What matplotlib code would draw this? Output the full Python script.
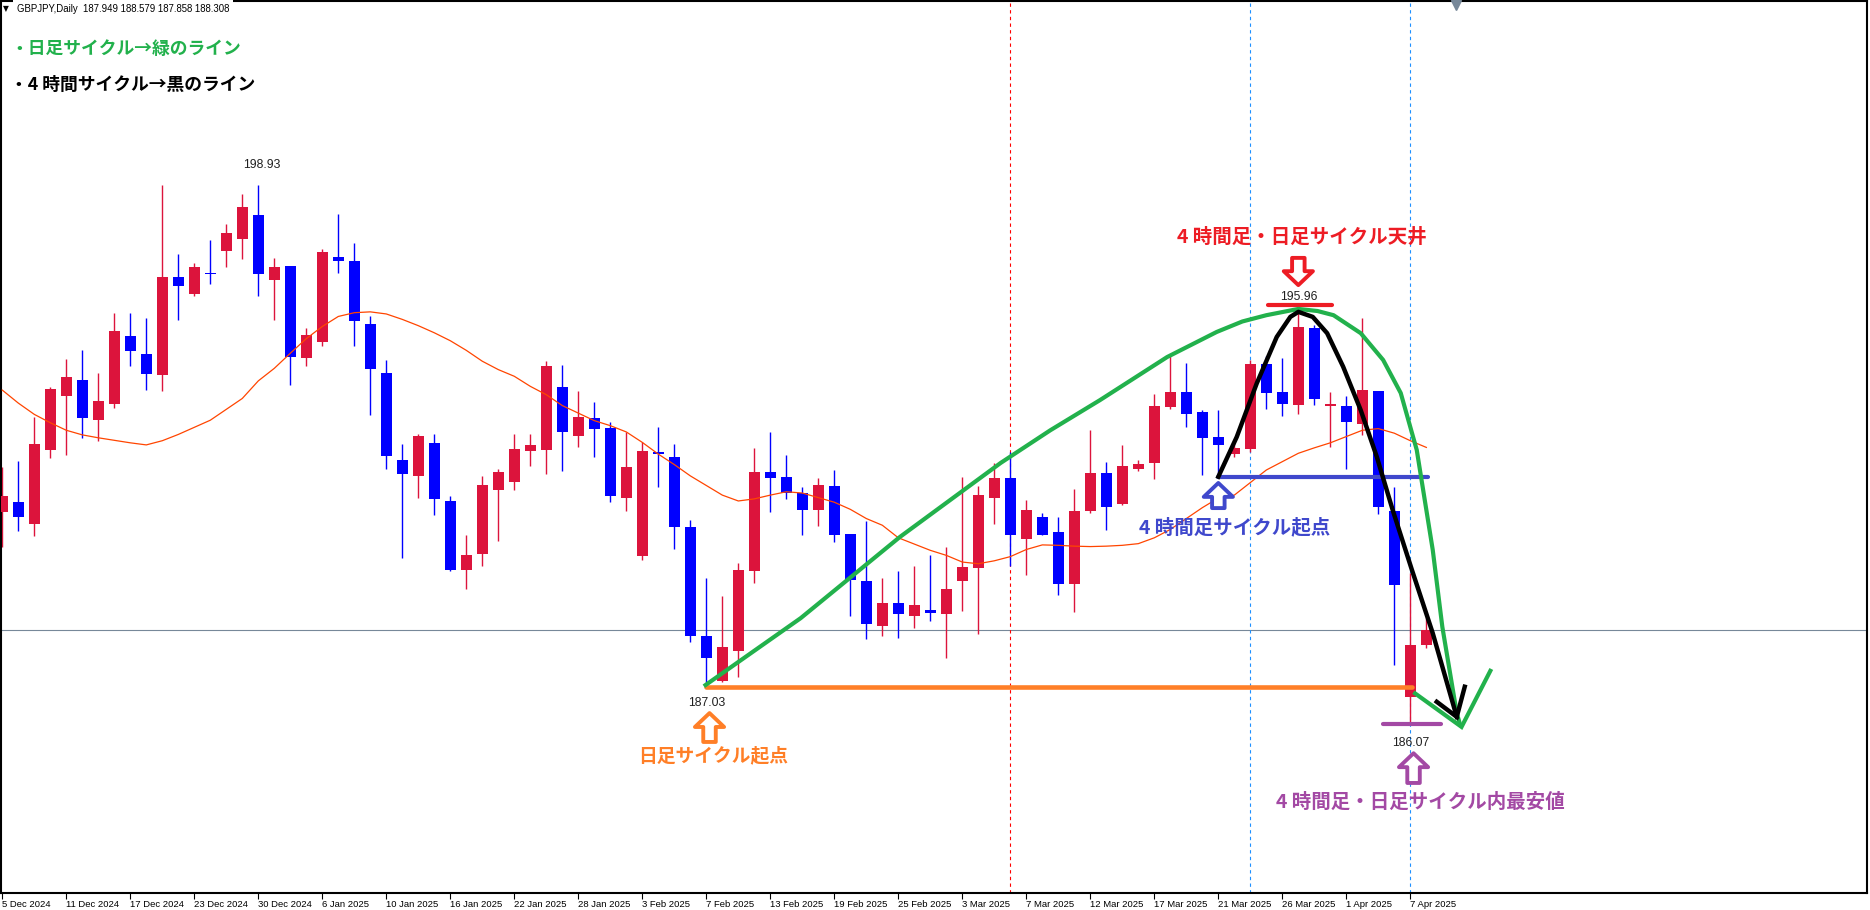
import numpy as np
import matplotlib
matplotlib.use("Agg")
import matplotlib.pyplot as plt

# ── Data (GBPJPY daily) ───────────────────────────────────────────────
opens = [191.12, 191.36, 190.84, 192.60, 193.90, 194.27, 193.32, 193.70, 195.32, 194.89,
         194.40, 196.73, 196.33, 196.83, 197.36, 197.65, 198.21, 196.67, 196.99, 194.80,
         195.19, 197.21, 197.11, 195.61, 194.44, 192.36, 191.98, 192.76, 191.38, 189.74,
         190.12, 191.65, 191.84, 192.58, 192.60, 194.10, 192.94, 193.36, 193.12, 191.46,
         190.07, 192.55, 192.43, 190.76, 188.16, 187.08, 187.80, 189.71, 192.07, 191.95,
         191.56, 191.17, 191.74, 190.59, 189.47, 188.40, 188.94, 188.64, 188.77, 188.69,
         189.47, 189.78, 191.46, 191.93, 190.48, 191.00, 190.64, 189.40, 191.15, 192.05,
         191.31, 192.14, 192.29, 193.63, 193.98, 193.51, 192.91, 192.51, 192.63, 194.65,
         193.98, 193.68, 195.51, 193.66, 193.65, 193.23, 194.01, 191.14, 186.70, 187.949]
highs = [192.20, 192.33, 193.39, 194.11, 194.77, 194.99, 194.45, 195.87, 195.87, 195.76,
         198.93, 197.28, 197.07, 197.62, 198.00, 198.72, 198.93, 197.19, 197.00, 195.51,
         197.40, 198.25, 197.54, 195.80, 194.75, 192.74, 192.98, 192.98, 191.50, 190.57,
         191.98, 192.14, 192.98, 192.98, 194.72, 194.63, 194.01, 193.74, 193.27, 193.03,
         192.79, 193.15, 192.74, 190.92, 189.55, 189.12, 189.90, 192.64, 193.03, 192.48,
         191.71, 191.93, 192.12, 190.59, 190.90, 189.54, 189.71, 189.82, 190.09, 190.28,
         191.95, 191.74, 192.29, 192.55, 191.40, 191.09, 191.00, 191.67, 193.08, 192.31,
         192.72, 192.36, 193.94, 194.84, 194.68, 193.55, 193.55, 192.79, 194.75, 194.84,
         194.80, 195.96, 195.58, 193.98, 193.89, 195.75, 194.01, 191.72, 189.65, 188.579]
lows = [190.29, 190.67, 190.55, 192.41, 192.49, 192.89, 192.82, 193.61, 194.61, 194.04,
        194.01, 195.71, 196.29, 196.57, 196.98, 197.16, 196.29, 195.71, 194.16, 194.61,
        195.09, 196.84, 195.09, 193.44, 192.15, 190.02, 191.46, 191.05, 189.71, 189.28,
        189.83, 190.43, 191.65, 192.22, 192.03, 192.10, 192.68, 192.44, 191.36, 191.15,
        189.98, 191.72, 190.24, 188.02, 187.03, 187.06, 187.18, 189.43, 191.12, 191.43,
        190.57, 190.79, 190.41, 188.64, 188.09, 188.16, 188.11, 188.35, 188.52, 187.63,
        188.76, 188.21, 190.84, 189.83, 189.62, 190.57, 189.14, 188.73, 191.10, 190.69,
        191.28, 192.09, 191.91, 193.59, 193.15, 192.01, 191.98, 192.44, 192.55, 193.59,
        193.42, 193.47, 193.68, 192.68, 192.15, 192.96, 191.08, 187.46, 186.07, 187.858]
closes = [191.50, 191.00, 192.74, 194.05, 194.34, 193.37, 193.77, 195.44, 194.97, 194.42,
          196.73, 196.52, 196.97, 196.80, 197.78, 198.40, 196.81, 196.97, 194.83, 195.35,
          197.33, 197.12, 195.69, 194.54, 192.46, 192.03, 192.93, 191.43, 189.74, 190.09,
          191.76, 192.07, 192.62, 192.72, 194.60, 193.04, 193.39, 193.11, 191.51, 192.19,
          192.57, 192.51, 190.76, 188.16, 187.63, 187.90, 189.73, 192.07, 191.94, 191.58,
          191.17, 191.76, 190.57, 189.50, 188.45, 188.94, 188.69, 188.89, 188.71, 189.27,
          189.80, 191.52, 191.93, 190.57, 191.16, 190.57, 189.40, 191.14, 192.05, 191.24,
          192.21, 192.26, 193.65, 193.98, 193.47, 192.89, 192.72, 192.64, 194.65, 193.97,
          193.70, 195.54, 193.82, 193.68, 193.27, 194.03, 191.24, 189.37, 187.94, 188.308]
ma_line = [194.03, 193.72, 193.45, 193.25, 193.07, 192.96, 192.89, 192.83, 192.77, 192.72,
           192.82, 192.97, 193.14, 193.31, 193.57, 193.83, 194.25, 194.55, 194.91, 195.26,
           195.55, 195.79, 195.88, 195.90, 195.85, 195.72, 195.57, 195.40, 195.21, 194.98,
           194.72, 194.52, 194.36, 194.12, 193.92, 193.66, 193.48, 193.30, 193.18, 193.03,
           192.78, 192.50, 192.25, 191.98, 191.75, 191.52, 191.38, 191.43, 191.52, 191.60,
           191.57, 191.46, 191.35, 191.18, 190.96, 190.80, 190.50, 190.35, 190.20, 190.08,
           189.92, 189.88, 189.95, 190.05, 190.22, 190.33, 190.32, 190.30, 190.29, 190.30,
           190.32, 190.36, 190.50, 190.70, 190.96, 191.22, 191.45, 191.52, 191.82, 192.12,
           192.32, 192.52, 192.65, 192.77, 192.92, 193.07, 193.11, 193.00, 192.82, 192.66]

date_labels = ["5 Dec 2024", "11 Dec 2024", "17 Dec 2024", "23 Dec 2024", "30 Dec 2024",
               "6 Jan 2025", "10 Jan 2025", "16 Jan 2025", "22 Jan 2025", "28 Jan 2025",
               "3 Feb 2025", "7 Feb 2025", "13 Feb 2025", "19 Feb 2025", "25 Feb 2025",
               "3 Mar 2025", "7 Mar 2025", "12 Mar 2025", "17 Mar 2025", "21 Mar 2025",
               "26 Mar 2025", "1 Apr 2025", "7 Apr 2025"]
date_bars = list(range(0, 89, 4))

bid_price = 188.308
header = "GBPJPY,Daily  187.949 188.579 187.858 188.308"

# hand-drawn annotations (bar index, price)
green_bar = [43.95, 49.9, 56.1, 62.4, 65.5, 68.6, 72.8, 75.9, 77.5, 79.0, 81.0, 82.2,
             83.2, 84.9, 86.3, 87.4, 88.4, 89.4, 90.0, 90.9, 91.1]
green_px = [186.98, 188.58, 190.52, 192.29, 193.07, 193.79, 194.82, 195.42, 195.67, 195.82,
            195.97, 195.92, 195.82, 195.39, 194.75, 193.96, 192.60, 190.21, 188.37, 186.31, 186.05]
green_v_bar = [88.3, 91.2, 93.0]
green_v_px = [186.78, 185.98, 187.32]
black_bar = [76.0, 77.15, 78.4, 79.65, 80.5, 81.0, 81.9, 82.8, 83.8, 84.9, 85.9, 86.9,
             88.1, 89.4, 90.9]
black_px = [191.96, 192.91, 194.19, 195.30, 195.78, 195.90, 195.78, 195.39, 194.59, 193.55,
            192.44, 191.16, 189.73, 188.22, 186.22]
black_head_bar = [89.65, 90.9, 91.4]
black_head_px = [186.58, 186.22, 186.94]

RED = "#DC143C"
BLUE = "#0000FF"
GREEN = "#22B14C"
ORANGE = "#FF7F27"
PURPLE = "#A349A4"
INDIGO = "#3F48CC"
TOPRED = "#ED1C24"
JP = ["Noto Sans CJK JP", "DejaVu Sans"]

# ── Figure ────────────────────────────────────────────────────────────
fig = plt.figure(figsize=(18.7, 9.1), dpi=100)
ax = fig.add_axes([1 / 1870, 17 / 910, 1866 / 1870, 892 / 910])
ax.set_xlim(-0.08, 116.54)
ax.set_ylim(182.01, 203.33)

o = np.array(opens)
h = np.array(highs)
l = np.array(lows)
c = np.array(closes)
x = np.arange(len(o))
cols = np.where(c >= o, RED, BLUE)

ax.axhline(bid_price, color="#778899", lw=0.8, zorder=1)
for b, col in [(63, "#FF0000"), (78, "#1E90FF"), (88, "#1E90FF")]:
    ax.axvline(b, color=col, lw=0.8, ls=(0, (3, 3)), zorder=1)

ax.vlines(x, l, h, colors=cols, lw=1.0, zorder=2)
ax.bar(x, np.maximum(np.abs(c - o), 0.03), bottom=np.minimum(o, c), width=0.69,
       color=cols, linewidth=0, zorder=3)
ax.plot(x, ma_line, color="#FF4500", lw=0.9, zorder=4)

# horizontal levels
ax.plot([44.0, 88.1], [186.94, 186.94], color=ORANGE, lw=3.3, solid_capstyle="round", zorder=5)
ax.plot([76.0, 89.1], [191.96, 191.96], color=INDIGO, lw=3.0, solid_capstyle="round", zorder=5)
ax.plot([79.1, 83.1], [196.06, 196.06], color=TOPRED, lw=3.0, solid_capstyle="round", zorder=5)
ax.plot([86.3, 89.9], [186.04, 186.04], color=PURPLE, lw=3.0, solid_capstyle="round", zorder=5)

# cycle curves
ax.plot(green_bar, green_px, color=GREEN, lw=3.0, solid_joinstyle="round", zorder=6)
ax.plot(green_v_bar, green_v_px, color=GREEN, lw=3.0, solid_joinstyle="miter", zorder=6)
ax.plot(black_bar, black_px, color="black", lw=3.2, solid_joinstyle="round", zorder=7)
ax.plot(black_head_bar, black_head_px, color="black", lw=3.2, solid_joinstyle="miter", zorder=7)

# hollow block arrows
def block_arrow(tip, tail, col):
    ax.annotate("", xy=tip, xytext=tail, zorder=8,
                arrowprops=dict(arrowstyle="simple,head_length=1.0,head_width=2.1,tail_width=0.9",
                                fc="white", ec=col, lw=2.8, mutation_scale=10,
                                shrinkA=0, shrinkB=0))

block_arrow((81.0, 196.54), (81.0, 197.19), TOPRED)
block_arrow((76.0, 191.81), (76.0, 191.21), INDIGO)
block_arrow((44.2, 186.31), (44.2, 185.62), ORANGE)
block_arrow((88.2, 185.35), (88.2, 184.64), PURPLE)

# price labels
for bx, py, txt in [(16.2, 199.41, "198.93"), (81.0, 196.25, "195.96"),
                    (44.0, 186.54, "187.03"), (88.0, 185.60, "186.07")]:
    ax.text(bx, py, txt, ha="center", va="center", fontsize=8.8, color="#202020",
            family="Liberation Sans", zorder=9)

# annotation texts
ax.text(81.2, 197.69, "4 時間足・日足サイクル天井", color=TOPRED, fontsize=14,
        fontweight="bold", family=JP, ha="center", va="center", zorder=9)
ax.text(77.0, 190.76, "4 時間足サイクル起点", color=INDIGO, fontsize=14,
        fontweight="bold", family=JP, ha="center", va="center", zorder=9)
ax.text(44.45, 185.28, "日足サイクル起点", color=ORANGE, fontsize=13.5,
        fontweight="bold", family=JP, ha="center", va="center", zorder=9)
ax.text(88.6, 184.17, "4 時間足・日足サイクル内最安値", color=PURPLE, fontsize=14,
        fontweight="bold", family=JP, ha="center", va="center", zorder=9)

# header overlay
fig.text(10 / 1870, 1 - 49 / 910, "・日足サイクル→緑のライン", color=GREEN, fontsize=12.8,
         fontweight="bold", family=JP, ha="left", va="center")
fig.text(10 / 1870, 1 - 85 / 910, "・4 時間サイクル→黒のライン", color="black", fontsize=12.8,
         fontweight="bold", family=JP, ha="left", va="center")
fig.text(3 / 1870, 1 - 9 / 910, "▼", fontsize=5.5, color="black", ha="left", va="center")
fig.text(17 / 1870, 1 - 9 / 910, header, fontsize=6.9, color="black", family="Liberation Sans",
         ha="left", va="center",
         bbox=dict(fc="white", ec="none", pad=3))
ax.plot([0.780], [0.996], marker="v", ms=7, color="#778899", transform=ax.transAxes,
        clip_on=False, zorder=9)

# axes styling
ax.set_yticks([])
ax.set_xticks(date_bars)
ax.set_xticklabels(date_labels, ha="left", fontsize=6.8, family="Liberation Sans")
ax.tick_params(axis="x", length=4, width=0.8, pad=1, direction="out")
for s in ax.spines.values():
    s.set_linewidth(1.5)
    s.set_color("black")

fig.savefig("out.png", dpi=100)
